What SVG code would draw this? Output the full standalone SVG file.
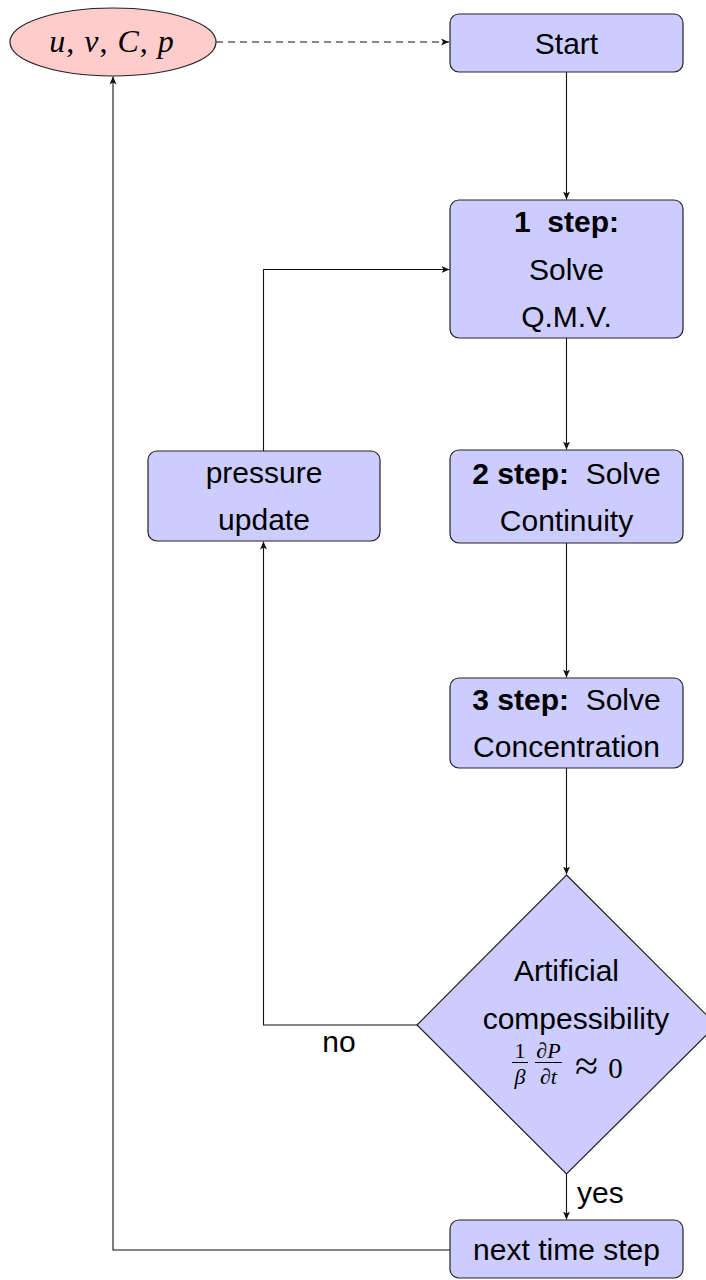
<svg xmlns="http://www.w3.org/2000/svg" width="706" height="1280" viewBox="0 0 706 1280">
<style>
.box{fill:#ccccff;stroke:#222;stroke-width:1.2}
.ell{fill:#ffcccc;stroke:#222;stroke-width:1.2}
.t{font-family:"Liberation Sans",Arial,sans-serif;font-size:30px;fill:#000;text-anchor:middle}
.b{font-weight:bold}
.m{font-family:"Liberation Serif","Times New Roman",serif;fill:#000}
.mi{font-style:italic}
.c{fill:none;stroke:#111;stroke-width:1.1}
</style>
<defs>
<marker id="ah" markerUnits="userSpaceOnUse" markerWidth="10" markerHeight="8" refX="8" refY="3.5" orient="auto">
<path d="M0,0 L8,3.5 L0,7 L2,3.5 z" fill="#111"/>
</marker>
</defs>
<g id="connectors">
<line class="c" x1="216" y1="42" x2="449" y2="42" stroke-dasharray="7,5" marker-end="url(#ah)"/>
<line class="c" x1="566.5" y1="72" x2="566.5" y2="199.5" marker-end="url(#ah)"/>
<line class="c" x1="566.5" y1="338" x2="566.5" y2="449.5" marker-end="url(#ah)"/>
<line class="c" x1="566.5" y1="543" x2="566.5" y2="677.5" marker-end="url(#ah)"/>
<line class="c" x1="566.5" y1="768" x2="566.5" y2="874.5" marker-end="url(#ah)"/>
<line class="c" x1="566.5" y1="1174" x2="566.5" y2="1219.5" marker-end="url(#ah)"/>
<polyline class="c" points="417,1025 263.5,1025 263.5,541.5" marker-end="url(#ah)"/>
<polyline class="c" points="263.5,451 263.5,269.5 449.5,269.5" marker-end="url(#ah)"/>
<polyline class="c" points="450,1250 113,1250 113,76.5" marker-end="url(#ah)"/>
<text class="t" x="339" y="1052">no</text>
<text class="t" x="577" y="1203" style="text-anchor:start">yes</text>
</g>
<g id="vars">
<ellipse class="ell" cx="113" cy="42" rx="103" ry="34"/>
<text class="m" x="112" y="52" font-size="32" letter-spacing="1" text-anchor="middle"><tspan class="mi">u</tspan>, <tspan class="mi">v</tspan>, <tspan class="mi">C</tspan>, <tspan class="mi">p</tspan></text>
</g>
<g id="start">
<rect class="box" x="450" y="14" width="233" height="58" rx="9"/>
<text class="t" x="566.5" y="54">Start</text>
</g>
<g id="step1">
<rect class="box" x="450" y="200" width="233" height="138" rx="9"/>
<text class="t b" x="566.5" y="232">1&#160;&#160;step:</text>
<text class="t" x="566.5" y="280">Solve</text>
<text class="t" x="566.5" y="327">Q.M.V.</text>
</g>
<g id="step2">
<rect class="box" x="450" y="450" width="233" height="93" rx="9"/>
<text class="t" x="566.5" y="484"><tspan class="b">2 step:</tspan>&#160; Solve</text>
<text class="t" x="566.5" y="531">Continuity</text>
</g>
<g id="pressure">
<rect class="box" x="148" y="451" width="232" height="90" rx="9"/>
<text class="t" x="264" y="483">pressure</text>
<text class="t" x="264" y="530">update</text>
</g>
<g id="step3">
<rect class="box" x="450" y="678" width="233" height="90" rx="9"/>
<text class="t" x="566.5" y="710"><tspan class="b">3 step:</tspan>&#160; Solve</text>
<text class="t" x="566.5" y="757">Concentration</text>
</g>
<g id="decision">
<polygon class="box" points="566.5,875 716.5,1025 566.5,1174 417,1025"/>
<text class="t" x="566.5" y="981">Artificial</text>
<text class="t" x="576" y="1029">compessibility</text>
<text class="m" x="520" y="1058" font-size="22" text-anchor="middle">1</text>
<line x1="512" y1="1062.5" x2="528" y2="1062.5" stroke="#000" stroke-width="1"/>
<text class="m mi" x="520" y="1084" font-size="22" text-anchor="middle">β</text>
<text class="m mi" x="548.5" y="1058" font-size="22" text-anchor="middle">∂P</text>
<line x1="535" y1="1062.5" x2="562" y2="1062.5" stroke="#000" stroke-width="1"/>
<text class="m mi" x="548.5" y="1084" font-size="22" text-anchor="middle">∂t</text>
<text class="m" x="586.5" y="1080" font-size="42" text-anchor="middle">≈</text>
<text class="m" x="615.5" y="1078" font-size="29" text-anchor="middle">0</text>
</g>
<g id="next">
<rect class="box" x="450" y="1220" width="233" height="58" rx="9"/>
<text class="t" x="566.5" y="1260">next time step</text>
</g>
</svg>
